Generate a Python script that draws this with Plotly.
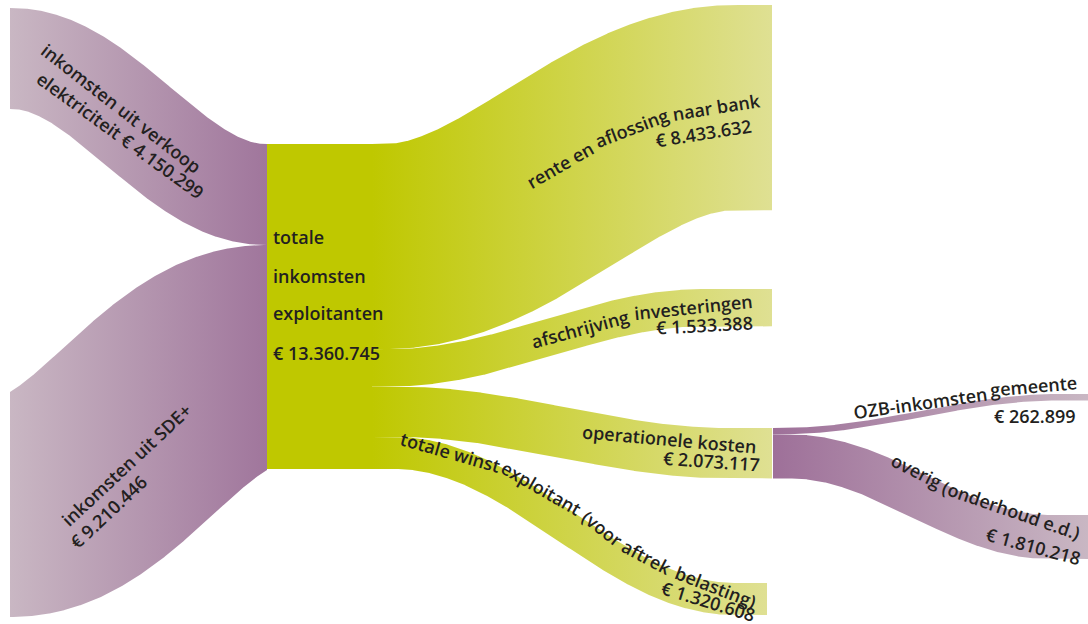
import numpy as np
import plotly.graph_objects as go

# ---------------- data ----------------
node_names = [
    "inkomsten uit verkoop elektriciteit",
    "inkomsten uit SDE+",
    "totale inkomsten exploitanten",
    "rente en aflossing naar bank",
    "afschrijving investeringen",
    "operationele kosten",
    "totale winst exploitant (voor aftrek belasting)",
    "OZB-inkomsten gemeente",
    "overig (onderhoud e.d.)",
]
link_source = [0, 1, 2, 2, 2, 2, 5, 5]
link_target = [2, 2, 3, 4, 5, 6, 7, 8]
link_value = [4150299, 9210446, 8433632, 1533388, 2073117, 1320608, 262899, 1810218]

# ---------------- layout / style ----------------
W, H = 1088, 624
PX_PER_EURO = 325.0 / 13360745
node_top = [8, 393, 144, 5, 289, 428, 583, 394, 515]
mid_node_x = (267, 372)
# per link: x start, x end, curve start, curve end
link_geom = [
    (10, 267, 12, 265),
    (10, 267, 12, 265),
    (372, 772, 385, 735),
    (372, 772, 390, 705),
    (372, 772, 395, 730),
    (372, 767, 395, 735),
    (773, 1088, 780, 1060),
    (773, 1088, 790, 1050),
]
PURPLE_IN = ["#c9b7c3", "#a0769c"]
GREEN_OUT = ["#bfc800", "#dfe093"]
PURPLE_OUT = ["#9e7099", "#c9b7c3"]
link_colors = [PURPLE_IN, PURPLE_IN, GREEN_OUT, GREEN_OUT, GREEN_OUT, GREEN_OUT, PURPLE_OUT, PURPLE_OUT]
NODE_GREEN = "#bfc800"
FONT = "Open Sans"
FSIZE = 18
FWEIGHT = 600
TXT = "#231f20"


def euro(v):
    return "€ " + f"{v:,}".replace(",", ".")


n_nodes = len(node_names)
node_in = [0] * n_nodes
node_out = [0] * n_nodes
for s, t, v in zip(link_source, link_target, link_value):
    node_out[s] += v
    node_in[t] += v
node_value = [max(a, b) for a, b in zip(node_in, node_out)]


def band(xs, xe, cx0, cx1, ya, yb, w, n=900, m=600):
    r = w / 2.0
    xc = np.linspace(xs, xe, n)
    u = np.clip((xc - cx0) / (cx1 - cx0), 0, 1)
    yc = ya + (yb - ya) * (1 - np.cos(np.pi * u)) / 2
    xq = np.linspace(xs, xe, m)
    dx = xq[:, None] - xc[None, :]
    inside = np.abs(dx) <= r
    h = np.sqrt(np.clip(r * r - dx * dx, 0, None))
    top = np.where(inside, yc[None, :] - h, np.inf).min(axis=1)
    bot = np.where(inside, yc[None, :] + h, -np.inf).max(axis=1)
    return np.concatenate([xq, xq[::-1]]), np.concatenate([top, bot[::-1]])


fig = go.Figure()

out_off = [0.0] * n_nodes
in_off = [0.0] * n_nodes
for i, (s, t, v) in enumerate(zip(link_source, link_target, link_value)):
    w = v * PX_PER_EURO
    ya = node_top[s] + out_off[s] + w / 2
    yb = node_top[t] + in_off[t] + w / 2
    out_off[s] += w
    in_off[t] += w
    xs, xe, cx0, cx1 = link_geom[i]
    bx, by = band(xs, xe, cx0, cx1, ya, yb, w)
    c0, c1 = link_colors[i]
    fig.add_trace(go.Scatter(
        x=bx, y=by, mode="lines", fill="toself",
        line=dict(width=0, color="rgba(0,0,0,0)"),
        fillcolor=c0,
        fillgradient=dict(type="horizontal", start=xs, stop=xe,
                          colorscale=[[0, c0], [1, c1]]),
        hoverinfo="skip", showlegend=False,
    ))

# middle node
mh = node_value[2] * PX_PER_EURO
x0, x1 = mid_node_x
fig.add_trace(go.Scatter(
    x=[x0, x1, x1, x0, x0],
    y=[node_top[2], node_top[2], node_top[2] + mh, node_top[2] + mh, node_top[2]],
    mode="lines", fill="toself", fillcolor=NODE_GREEN,
    line=dict(width=0, color="rgba(0,0,0,0)"),
    hoverinfo="skip", showlegend=False,
))

# label pieces: node, word start, word end, append amount, x, y, angle, xanchor
label_pieces = [
    (0, 0, 3, False, 121, 108, 38, "center"),
    (0, 3, 4, True, 120, 135, 36, "center"),
    (1, 0, 3, False, 126, 465, -43, "center"),
    (1, 3, 3, True, 108, 512, -43, "center"),
    (2, 0, 1, False, 271, 237, 0, "left"),
    (2, 1, 2, False, 271, 276, 0, "left"),
    (2, 2, 3, False, 271, 313, 0, "left"),
    (2, 3, 3, True, 271, 353, 0, "left"),
    (3, 0, 2, False, 560, 164.5, -30, "center"),
    (3, 2, 3, False, 631, 127.6, -21, "center"),
    (3, 3, 5, False, 716.5, 107, -9, "center"),
    (3, 5, 5, True, 703, 133, -9, "center"),
    (4, 0, 1, False, 580, 328.8, -15, "center"),
    (4, 1, 2, False, 693, 306.8, -6, "center"),
    (4, 2, 2, True, 704, 325, -3, "center"),
    (5, 0, 2, False, 669, 439, 5, "center"),
    (5, 2, 2, True, 711, 461, 4, "center"),
    (6, 0, 2, False, 450, 452, 16, "center"),
    (6, 2, 3, False, 541, 488, 30, "center"),
    (6, 3, 4, False, 602, 528, 38, "center"),
    (6, 4, 5, False, 646.5, 557.2, 28, "center"),
    (6, 5, 6, False, 715.5, 587.3, 21, "center"),
    (6, 6, 6, True, 708, 601, 17, "center"),
    (7, 0, 1, False, 920, 403.4, -8, "center"),
    (7, 1, 2, False, 1033, 386, -5, "center"),
    (7, 2, 2, True, 1035, 416, 0, "center"),
    (8, 0, 1, False, 917, 470.6, 27, "center"),
    (8, 1, 3, False, 1011, 510.3, 19, "center"),
    (8, 3, 3, True, 1033, 546, 15, "center"),
]

for node, w0, w1, amt, x, y, ang, xa in label_pieces:
    words = node_names[node].split()[w0:w1]
    if amt:
        words = words + [euro(node_value[node])]
    fig.add_annotation(
        x=x, y=y, xref="x", yref="y", text=" ".join(words),
        showarrow=False, textangle=ang, xanchor=xa, yanchor="middle",
        font=dict(family=FONT, size=FSIZE, color=TXT, weight=FWEIGHT),
    )

fig.update_layout(
    width=W, height=H, margin=dict(l=0, r=0, t=0, b=0),
    paper_bgcolor="white", plot_bgcolor="white",
    xaxis=dict(range=[0, W], visible=False, fixedrange=True),
    yaxis=dict(range=[H, 0], visible=False, fixedrange=True),
    showlegend=False,
)

fig.write_html("out.html", config={"displayModeBar": False},
               post_script="document.body.style.margin='0';document.body.style.overflow='hidden';")
